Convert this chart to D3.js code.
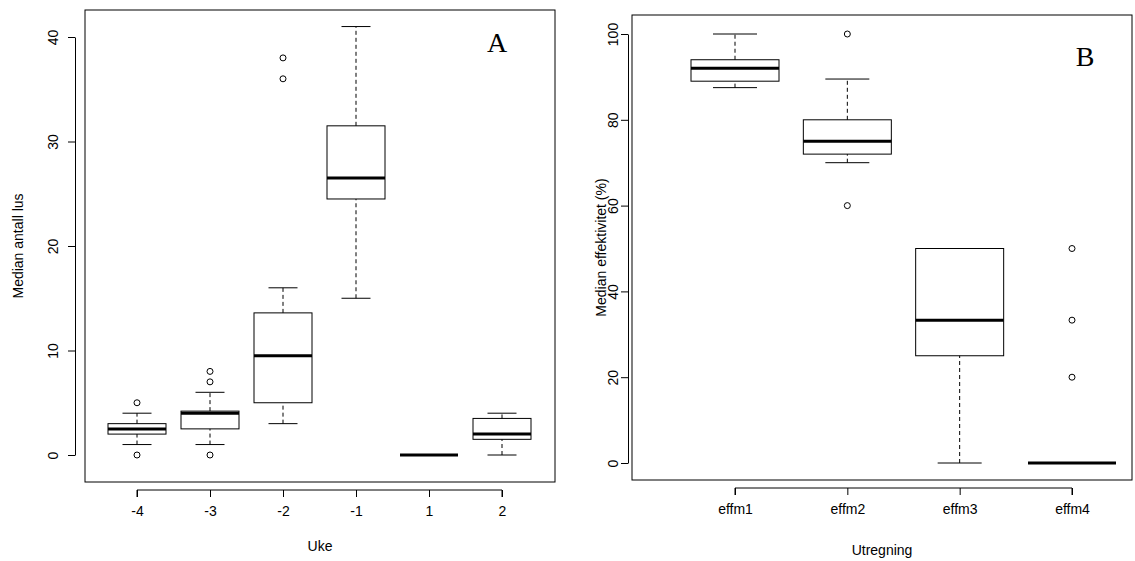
<!DOCTYPE html><html><head><meta charset="utf-8"><script src="https://cdn.jsdelivr.net/npm/d3@7"></script>
<style>body{margin:0;background:#fff}text{font-family:Arial,"Liberation Sans",sans-serif}</style></head><body>
<svg id="c" width="1135" height="561"></svg>
<script>
const ukeCats=["-4","-3","-2","-1","1","2"];
const ukeStats=[[1,2,2.5,3,4],[1,2.5,4,4.2,6],[3,5,9.5,13.6,16],[15,24.5,26.5,31.5,41],[0,0,0,0,0],[0,1.5,2,3.5,4]];
const ukeOut=[[5,0],[7,8,0],[36,38],[],[],[]];
const effCats=["effm1","effm2","effm3","effm4"];
const effStats=[[87.5,89,92,94,100],[70,72,75,80,89.5],[0,25,33.3,50,50],[0,0,0,0,0]];
const effOut=[[],[100,60],[],[20,33.3,50]];
const svg=d3.select("#c");
function panel(o){
  const g=svg.append("g");
  const x=d3.scalePoint().domain(o.cats).range(o.xr);
  const y=d3.scaleLinear().domain(o.yd).range(o.yr);
  g.append("rect").attr("x",o.L).attr("y",o.T).attr("width",o.R-o.L).attr("height",o.B-o.T).attr("fill","none").attr("stroke","#000");
  const ya=g.append("g").attr("transform",`translate(${o.ax},0)`).call(d3.axisLeft(y).tickValues(o.yt).tickSize(7).tickSizeOuter(0));
  ya.selectAll("text").attr("transform","rotate(-90)").attr("x",0).attr("y",o.tly).attr("dy",0).style("text-anchor","middle").style("font-size","14px");
  const xa=g.append("g").attr("transform",`translate(0,${o.B+8})`).call(d3.axisBottom(x).tickSize(7).tickSizeOuter(0));
  xa.select(".domain").attr("d",`M${o.xr[0]},7V0H${o.xr[1]}V7`);
  xa.selectAll("text").attr("y",16).style("font-size","14px");
  o.stats.forEach((s,i)=>{
    const cx=x(o.cats[i]), w=o.bw, h=w/4;
    g.append("line").attr("x1",cx).attr("x2",cx).attr("y1",y(s[0])).attr("y2",y(s[1])).attr("stroke","#000").attr("stroke-dasharray","4,3");
    g.append("line").attr("x1",cx).attr("x2",cx).attr("y1",y(s[3])).attr("y2",y(s[4])).attr("stroke","#000").attr("stroke-dasharray","4,3");
    [s[0],s[4]].forEach(v=>g.append("line").attr("x1",cx-h).attr("x2",cx+h).attr("y1",y(v)).attr("y2",y(v)).attr("stroke","#000"));
    g.append("rect").attr("x",cx-w/2).attr("width",w).attr("y",y(s[3])).attr("height",y(s[1])-y(s[3])).attr("fill","none").attr("stroke","#000");
    g.append("line").attr("x1",cx-w/2).attr("x2",cx+w/2).attr("y1",y(s[2])).attr("y2",y(s[2])).attr("stroke","#000").attr("stroke-width",3);
    o.out[i].forEach(v=>g.append("circle").attr("cx",cx).attr("cy",y(v)).attr("r",3).attr("fill","none").attr("stroke","#000"));
  });
  g.append("text").attr("x",(o.L+o.R)/2).attr("y",o.xly).attr("text-anchor","middle").style("font-size","14px").text(o.xl);
  g.append("text").attr("transform",`translate(${o.ylx},${(o.T+o.B)/2}) rotate(-90)`).attr("text-anchor","middle").style("font-size","14px").text(o.yl);
  g.append("text").attr("x",o.lx).attr("y",o.ly).attr("text-anchor","middle").style("font-family","'Liberation Serif',serif").style("font-size","28px").text(o.lab);
}
panel({cats:ukeCats,stats:ukeStats,out:ukeOut,L:85,R:555,T:10,B:482,xr:[137,502],bw:58,ax:75,tly:-17,yd:[0,40],yr:[455,37],yt:[0,10,20,30,40],xl:"Uke",xly:551,yl:"Median antall lus",ylx:23,lab:"A",lx:497,ly:52});
panel({cats:effCats,stats:effStats,out:effOut,L:632,R:1132,T:15,B:480,xr:[735,1072],bw:88,ax:628,tly:-10,yd:[0,100],yr:[463,34],yt:[0,20,40,60,80,100],xl:"Utregning",xly:555,yl:"Median effektivitet  (%)",ylx:606,lab:"B",lx:1085,ly:66});
</script></body></html>
